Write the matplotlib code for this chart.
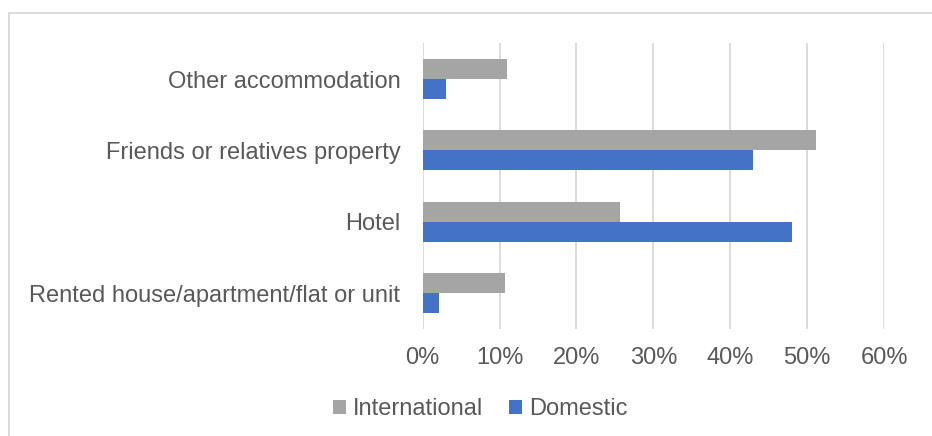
import matplotlib
matplotlib.use("Agg")
import matplotlib.pyplot as plt
from matplotlib.patches import Patch, Rectangle
from matplotlib.ticker import PercentFormatter
import numpy as np

plt.rcParams['font.family'] = ['Liberation Sans', 'DejaVu Sans']

categories = ["Rented house/apartment/flat or unit", "Hotel",
              "Friends or relatives property", "Other accommodation"]
international = [10.7, 25.7, 51.2, 11.0]
domestic = [2.1, 48.0, 42.9, 3.0]
series_names = ["International", "Domestic"]
xticks = [0, 10, 20, 30, 40, 50, 60]

C_INT = "#A5A5A5"
C_DOM = "#4472C4"
TXT = "#595959"
FS = 17

W, H = 932, 436
fig = plt.figure(figsize=(W / 100, H / 100), dpi=100)
ax = fig.add_axes([422.7 / W, 1 - 329 / H, (884 - 422.7) / W, (329 - 43.3) / H])

y = np.arange(len(categories))
bh = 0.28
ax.barh(y + bh / 2, international, height=bh, color=C_INT, zorder=3)
ax.barh(y - bh / 2, domestic, height=bh, color=C_DOM, zorder=3)

ax.set_ylim(-0.5, len(categories) - 0.5)
ax.set_xlim(0, 60)
ax.set_xticks(xticks)
ax.xaxis.set_major_formatter(PercentFormatter(decimals=0))
ax.set_yticks(y)
ax.set_yticklabels(categories)
ax.tick_params(axis='both', length=0, labelsize=FS, colors=TXT)
ax.tick_params(axis='y', pad=16)
ax.tick_params(axis='x', pad=13)
ax.grid(axis='x', color="#D9D9D9", linewidth=1.3, zorder=0)
for s in ax.spines.values():
    s.set_visible(False)

handles = [Patch(facecolor=C_INT), Patch(facecolor=C_DOM)]
fig.legend(handles, series_names, loc='center', bbox_to_anchor=(480 / W, 1 - 409 / H),
           ncol=2, frameon=False, fontsize=FS, labelcolor=TXT,
           handlelength=0.55, handleheight=0.55, handletextpad=0.3,
           columnspacing=1.1)

fig.patches.append(Rectangle((9 / W, -0.1), 1.2, 1 - 13 / H + 0.1,
                             transform=fig.transFigure, fill=False,
                             edgecolor="#D9D9D9", linewidth=1.3))

fig.savefig("out.png", dpi=100, facecolor="white")
